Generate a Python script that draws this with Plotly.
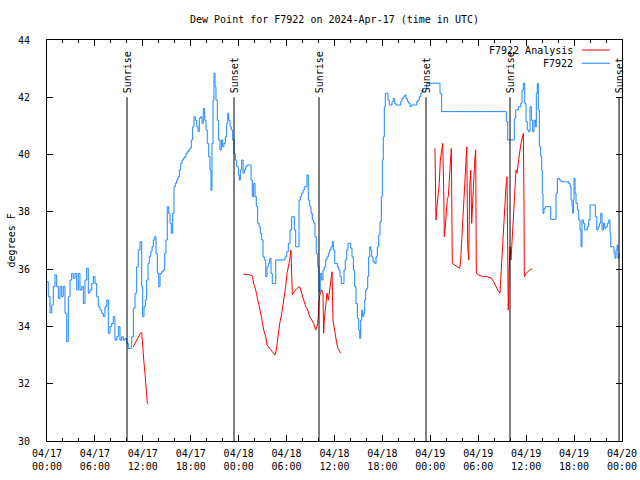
import plotly.graph_objects as go
from datetime import datetime, timedelta

TITLE = "Dew Point for F7922 on 2024-Apr-17 (time in UTC)"
BASE = datetime(2024, 4, 17, 0, 0)

# Station observations (hours after 2024-04-17 00:00 UTC, deg F)
obs_hours = [0.0, 0.16, 0.38, 0.59, 0.79, 1.00, 1.21, 1.42, 1.63, 1.84, 2.04, 2.25, 2.47, 2.67, 2.88,
             3.09, 3.29, 3.51, 3.72, 3.92, 4.13, 4.35, 4.55, 4.76, 4.97, 5.17, 5.38, 5.60, 5.80, 6.01,
             6.22, 6.42, 6.64, 6.85, 7.05, 7.26, 7.48, 7.68, 7.89, 8.10, 8.30, 8.51, 8.73, 8.93, 9.14,
             9.35, 9.55, 9.77, 9.98, 10.18, 10.39, 10.61, 10.81, 11.02, 11.23, 11.43, 11.65, 11.86, 11.98,
             12.15, 12.31, 12.48, 12.65, 12.81, 12.99, 13.15, 13.31, 13.49, 13.65, 13.81, 13.99, 14.15,
             14.36, 14.56, 14.74, 14.90, 15.06, 15.24, 15.40, 15.56, 15.74, 15.90, 16.07, 16.24, 16.40,
             16.57, 16.74, 16.90, 17.07, 17.24, 17.41, 17.57, 17.74, 17.91, 18.07, 18.24, 18.41, 18.57,
             18.75, 18.91, 19.07, 19.25, 19.41, 19.57, 19.75, 19.91, 20.07, 20.25, 20.41, 20.54, 20.66,
             20.79, 20.91, 21.04, 21.16, 21.33, 21.50, 21.66, 21.83, 22.00, 22.16, 22.33, 22.50, 22.63,
             22.75, 22.92, 23.08, 23.25, 23.42, 23.58, 23.75, 23.96, 24.08, 24.21, 24.38, 24.55, 24.71,
             24.88, 25.05, 25.38, 25.55, 25.71, 25.88, 26.05, 26.21, 26.38, 26.55, 26.71, 26.88, 27.05,
             27.21, 27.39, 27.55, 27.71, 27.89, 28.05, 28.21, 28.46, 28.64, 29.55, 29.80, 30.02, 30.22,
             30.43, 30.64, 30.84, 30.97, 31.14, 31.39, 31.56, 31.72, 31.89, 32.06, 32.22, 32.40, 32.56,
             32.72, 32.90, 33.06, 33.22, 33.40, 33.56, 33.72, 33.90, 34.06, 34.22, 34.40, 34.56, 34.72,
             34.90, 35.06, 35.23, 35.40, 35.56, 35.73, 35.85, 36.03, 36.19, 36.35, 36.53, 36.69, 36.85,
             37.03, 37.19, 37.35, 37.53, 37.69, 37.86, 38.03, 38.19, 38.36, 38.53, 38.69, 38.86, 39.03,
             39.16, 39.28, 39.41, 39.53, 39.66, 39.78, 39.91, 40.03, 40.16, 40.28, 40.41, 40.53, 40.66,
             40.82, 41.04, 41.20, 41.36, 41.54, 41.70, 41.86, 41.99, 42.11, 42.24, 42.36, 42.54, 42.70,
             42.86, 43.04, 43.20, 43.36, 43.54, 43.70, 44.11, 44.29, 44.45, 44.62, 44.79, 44.95, 45.12,
             45.29, 45.46, 45.62, 46.12, 46.30, 46.46, 46.62, 46.80, 46.96, 47.12, 47.55, 49.00, 49.21,
             49.42, 51.0, 53.0, 55.0, 57.35, 57.51, 57.69, 58.35, 58.51, 58.69, 59.02, 59.32, 59.48,
             59.65, 59.82, 59.98, 60.14, 60.32, 60.48, 60.65, 60.82, 60.98, 61.15, 61.27, 61.40, 61.52,
             61.65, 61.82, 61.95, 62.02, 62.11, 62.23, 62.40, 62.90, 63.07, 63.57, 63.74, 63.90, 64.15,
             64.40, 65.08, 65.33, 65.49, 65.62, 65.74, 65.83, 65.91, 65.99, 66.12, 66.24, 66.41, 66.58,
             66.74, 66.87, 66.99, 67.16, 67.33, 67.49, 67.66, 67.84, 68.00, 68.50, 68.66, 68.84, 69.00,
             69.17, 69.34, 69.50, 69.67, 69.84, 70.00, 70.16, 70.34, 70.50, 70.59, 70.84, 71.00, 71.13,
             71.25, 71.38, 71.50, 71.63]
obs_values = [35.56, 35.04, 34.47, 34.75, 35.39, 35.8, 35.4, 34.98, 35.4, 35.04, 35.4, 34.46, 33.47, 35.04, 35.62,
              35.85, 35.68, 35.85, 35.27, 35.85, 35.27, 35.4, 34.8, 35.62, 36.03, 35.16, 35.27, 35.5, 35.74, 35.5,
              35.04, 34.69, 34.57, 34.46, 34.34, 34.69, 34.92, 33.76, 33.99, 34.1, 34.34, 33.52, 33.64, 33.99, 33.52,
              33.64, 33.52, 33.58, 33.41, 33.23, 33.24, 33.64, 34.63, 35.16, 36.08, 36.67, 36.96, 35.39, 34.34,
              34.69, 34.92, 35.62, 36.2, 36.43, 36.61, 36.78, 37.02, 37.13, 36.55, 35.85, 35.39, 35.85,
              35.91, 35.97, 36.55, 37.02, 38.18, 37.95, 37.6, 37.25, 37.95, 38.88, 39.0, 39.11, 39.23,
              39.46, 39.69, 39.81, 39.87, 39.93, 40.04, 40.1, 40.16, 40.22, 40.51, 40.97, 41.32, 41.2,
              40.97, 40.8, 41.27, 41.32, 41.09, 41.61, 41.2, 40.86, 40.39, 39.93, 39.46, 38.75, 40.39,
              41.9, 42.84, 42.37, 41.9, 41.2, 40.51, 40.16, 40.51, 40.27, 40.39, 40.62, 41.09, 41.44,
              41.2, 40.97, 40.86, 40.51, 40.04, 39.81, 39.58, 39.29, 39.11, 39.46, 39.81, 39.35, 39.46,
              39.58, 39.64, 39.64, 39.11, 38.53, 38.99, 38.53, 38.18, 37.6, 37.48, 37.25, 37.02, 36.43,
              36.32, 35.74, 36.08, 36.2, 36.38, 35.85, 35.5, 35.5, 36.32, 36.32, 36.43, 36.61, 36.9,
              37.37, 37.83, 37.83, 37.37, 36.78, 36.78, 38.41, 38.53, 38.65, 38.76, 38.88, 38.88, 39.29,
              38.41, 38.18, 37.95, 37.72, 37.6, 37.13, 36.55, 36.08, 35.2, 35.85, 35.62, 35.97, 36.08,
              36.32, 36.43, 36.55, 36.67, 36.78, 36.96, 36.67, 36.2, 36.2, 36.08, 35.97, 35.74, 35.5,
              35.5, 35.97, 36.32, 36.67, 36.9, 36.9, 36.73, 36.43, 35.97, 35.39, 34.8, 34.28, 33.87,
              33.58, 34.22, 34.57, 34.34, 34.46, 34.92, 35.27, 35.33, 35.74, 36.43, 36.78, 36.67, 36.43,
              36.26, 36.2, 36.43, 36.78, 37.19, 37.66, 38.53, 39.81, 40.62, 41.67, 42.14, 42.14, 41.9,
              41.73, 41.73, 41.85, 41.96, 41.79, 41.73, 41.73, 41.85, 41.96, 42.02, 42.08, 41.96, 41.85,
              41.79, 41.67, 41.73, 41.73, 41.85, 41.9, 42.02, 42.14, 42.25, 42.31, 42.49, 42.49, 42.14,
              41.5, 41.5, 41.5, 41.5, 41.5, 41.15, 40.51, 40.51, 41.27, 41.56, 41.67, 41.79, 42.25,
              42.49, 41.79, 41.15, 40.86, 40.8, 41.67, 41.2, 40.8, 41.2, 40.97, 42.14, 42.49, 41.56,
              40.27, 39.93, 39.46, 38.65, 37.95, 38.12, 38.18, 38.18, 37.74, 37.74, 38.65, 39.17, 39.11,
              39.05, 39.05, 38.99, 38.88, 38.41, 38.18, 37.95, 38.41, 39.17, 38.65, 38.3, 38.07, 37.72,
              37.37, 36.78, 37.72, 37.6, 37.37, 37.37, 37.48, 37.72, 38.24, 38.24, 37.83, 37.37, 37.48,
              37.6, 37.95, 37.37, 37.6, 37.43, 37.48, 37.6, 37.72, 37.25, 36.78, 36.78, 36.55, 36.38,
              36.67, 36.84, 36.38, 36.55]

# Analysis series, three runs (None = gap)
ana_hours = [10.81, 11.11, 11.43, 11.71, 11.86, 11.98, 12.15, 12.27, 12.40, 12.56, 12.69, None,
             24.58, 25.21, 25.71, 25.88, 26.13, 26.38, 26.63, 26.88, 27.14, 27.39, 27.55, 27.89, 28.21,
             28.55, 28.71, 28.89, 29.14, 29.39, 29.64, 29.89, 30.05, 30.22, 30.39, 30.55, 30.64, 30.72,
             30.97, 31.31, 31.64, 31.89, 32.14, 32.40, 32.65, 32.90, 33.15, 33.40, 33.65, 33.77, 33.90,
             33.97, 34.06, 34.22, 34.40, 34.56, 34.64, 34.72, 34.90, 35.06, 35.23, 35.40, 35.56, 35.69,
             35.81, 35.98, 36.10, 36.28, 36.44, 36.61, 36.78, None,
             48.58, 48.71, 48.83, 49.00, 49.12, 49.25, 49.42, 49.55, 49.67, 49.75, 49.88, 50.00, 50.13,
             50.25, 50.38, 50.50, 50.63, 50.75, 51.09, 51.43, 51.68, 51.80, 51.93, 52.05, 52.18, 52.30,
             52.43, 52.56, 52.68, 52.81, 52.93, 53.06, 53.18, 53.31, 53.43, 53.56, 53.68, 53.76, 54.09,
             54.51, 55.06, 55.68, 55.93, 56.18, 56.44, 56.72, 56.85, 57.01, 57.19, 57.35, 57.47, 57.60,
             57.69, 57.76, 57.85, 57.98, 58.10, 58.23, 58.35, 58.48, 58.60, 58.73, 58.85, 58.98, 59.10,
             59.23, 59.35, 59.52, 59.65, 59.73, 59.77, 59.98, 60.27, 60.57, 60.77]
ana_values = [33.29, 33.47, 33.64, 33.78, 33.78, 33.17, 32.71, 32.36, 31.9, 31.32, 31.28, None,
              35.82, 35.82, 35.76, 35.5, 35.27, 34.98, 34.63, 34.28, 33.87, 33.64, 33.35, 33.23, 33.12,
              33.0, 33.17, 33.64, 34.1, 34.46, 34.92, 35.39, 35.85, 36.08, 36.32, 36.67, 35.85, 35.1,
              35.21, 35.33, 35.39, 35.16, 34.92, 34.69, 34.57, 34.34, 34.22, 34.1, 33.87, 33.99, 34.1,
              34.34, 34.92, 35.16, 35.27, 35.16, 33.76, 34.22, 34.8, 35.16, 34.92, 35.27, 35.74, 35.91,
              34.22, 33.93, 33.64, 33.41, 33.23, 33.12, 33.06, None,
              40.22, 37.72, 38.18, 38.65, 38.99, 39.81, 40.16, 40.39, 38.88, 37.13, 37.48, 38.07, 38.47,
              38.53, 39.23, 39.69, 40.22, 36.2, 36.14, 36.08, 36.03, 36.32, 36.96, 37.6, 38.41, 38.99,
              39.46, 40.27, 36.78, 36.32, 38.88, 39.46, 37.6, 38.41, 39.46, 39.81, 40.16, 35.85, 35.79,
              35.74, 35.74, 35.68, 35.56, 35.39, 35.27, 35.16, 35.85, 36.78, 37.48, 38.3, 38.88, 39.23,
              36.9, 34.57, 35.85, 36.78, 36.32, 37.02, 37.83, 38.41, 39.11, 39.46, 39.35, 39.69, 39.93,
              40.16, 40.39, 40.62, 40.74, 38.3, 35.74, 35.85, 35.94, 36.0, 36.0]

sun_hours = [10.02, 23.42, 34.06, 47.46, 57.98, 71.63]
sun_labels = ["Sunrise", "Sunset", "Sunrise", "Sunset", "Sunrise", "Sunset"]

y_ticks = [30, 32, 34, 36, 38, 40, 42, 44]
legend_names = ["F7922 Analysis", "F7922"]
legend_colors = ["#ff0000", "#1a86ff"]


def to_time(h):
    return None if h is None else BASE + timedelta(hours=h)


FONT = "DejaVu Sans Mono"
fig = go.Figure()
fig.add_trace(go.Scatter(x=[to_time(h) for h in ana_hours], y=ana_values, mode="lines",
                         line=dict(color=legend_colors[0], width=1), connectgaps=False,
                         name=legend_names[0], showlegend=False))
fig.add_trace(go.Scatter(x=[to_time(h) for h in obs_hours], y=obs_values, mode="lines",
                         line=dict(color=legend_colors[1], width=1, shape="hv"),
                         name=legend_names[1], showlegend=False))

for h, lab in zip(sun_hours, sun_labels):
    t = to_time(h)
    fig.add_shape(type="line", x0=t, x1=t, y0=30, y1=42, xref="x", yref="y",
                  line=dict(color="black", width=1))
    fig.add_annotation(x=t, y=42, xref="x", yref="y", text=lab, textangle=-90,
                       showarrow=False, yanchor="bottom", xanchor="center", yshift=2,
                       font=dict(family=FONT, size=10, color="black"))

# manual legend (text left of sample, like the original)
for i, (nm, col) in enumerate(zip(legend_names, legend_colors)):
    yp = 0.975 - i * 0.033
    fig.add_annotation(x=0.918, y=yp, xref="paper", yref="paper", text=nm, showarrow=False,
                       xanchor="right", yanchor="middle", font=dict(family=FONT, size=10, color="black"))
    fig.add_shape(type="line", x0=0.930, x1=0.979, y0=yp, y1=yp, xref="paper", yref="paper",
                  line=dict(color=col, width=1))

fig.add_annotation(x=-0.061, y=0.5, xref="paper", yref="paper", text="degrees F", textangle=-90,
                   showarrow=False, xanchor="center", yanchor="middle",
                   font=dict(family=FONT, size=10, color="black"))

fig.update_layout(
    width=640, height=480,
    margin=dict(l=47, r=18, t=40, b=39, autoexpand=False),
    paper_bgcolor="white", plot_bgcolor="white",
    font=dict(family=FONT, size=10, color="black"),
    title=dict(text=TITLE, x=0.5, xref="paper", xanchor="center", y=1 - 19 / 480, yanchor="middle",
               font=dict(family=FONT, size=10, color="black")),
    showlegend=False,
)
fig.update_xaxes(
    type="date", range=[BASE, BASE + timedelta(hours=72)], automargin=False,
    tick0=BASE, dtick=6 * 3600 * 1000, tickformat="%m/%d<br>%H:%M",
    ticks="inside", ticklen=6, tickcolor="black", showline=True, linecolor="black", linewidth=1,
    mirror="ticks", showgrid=False, zeroline=False, ticklabelstandoff=3,
    minor=dict(ticks="inside", ticklen=3, dtick=2 * 3600 * 1000, tickcolor="black", showgrid=False),
)
fig.update_yaxes(
    range=[30, 44], tickvals=y_ticks, ticks="inside", ticklen=6, tickcolor="black", automargin=False,
    showline=True, linecolor="black", linewidth=1, mirror="ticks", showgrid=False, zeroline=False,
    ticklabelstandoff=14,
)
fig.write_html("out.html", post_script="document.body.style.margin='0';",
               config={"displayModeBar": False})
